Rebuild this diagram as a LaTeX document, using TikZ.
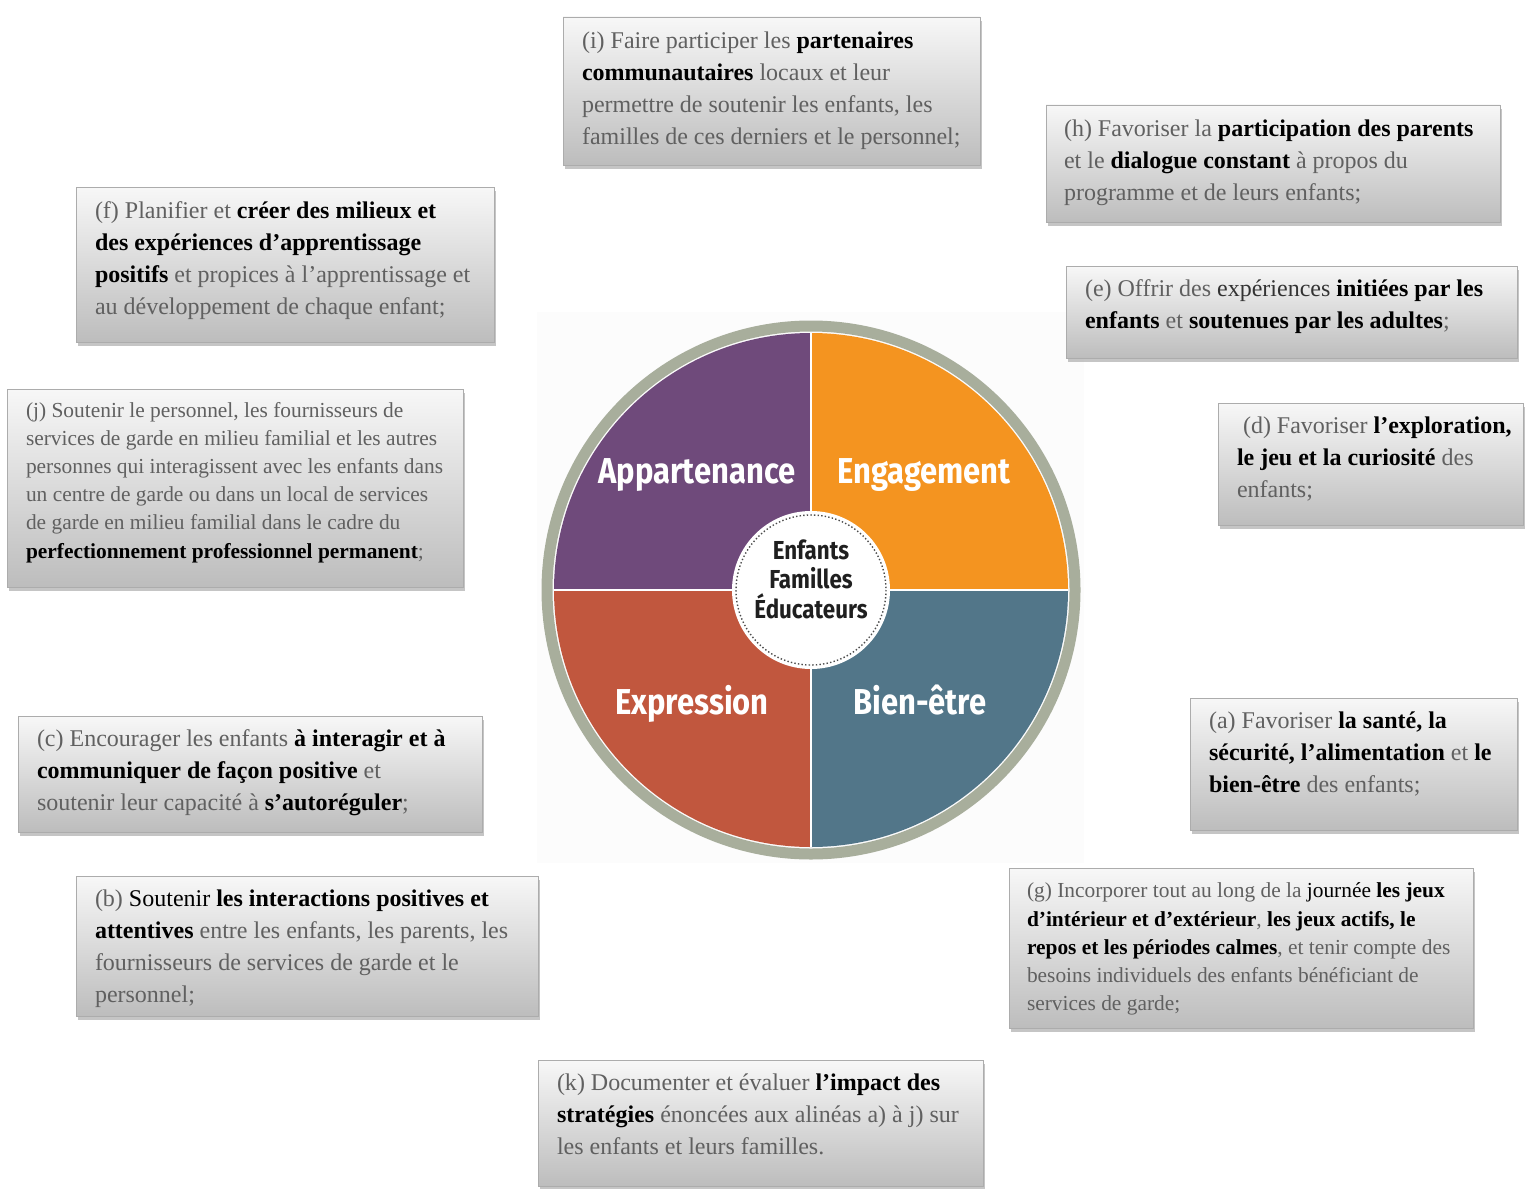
\documentclass[tikz,border=0pt]{standalone}
\usepackage{fontspec}
\setmainfont{Liberation Serif}
\newfontfamily\wheelfont[FakeStretch=0.86]{Fira Sans}
\usetikzlibrary{shadows,fit}

\definecolor{txtgray}{RGB}{96,96,96}
\definecolor{ringgray}{RGB}{168,174,156}
\definecolor{appcolor}{RGB}{111,74,123}
\definecolor{engcolor}{RGB}{244,148,32}
\definecolor{expcolor}{RGB}{193,87,62}
\definecolor{biecolor}{RGB}{82,118,137}

\newcommand{\hl}[1]{\textbf{\color{black}#1}}

\tikzset{panel/.style={draw=gray!65,top color=gray!6,bottom color=gray!52,inner sep=0pt,
drop shadow={opacity=0.45,shadow xshift=0.8pt,shadow yshift=-1.8pt}},
panel text/.style={anchor=north west,align=left,inner sep=0pt,text=txtgray,font=\fontsize{12}{16}\selectfont,
execute at begin node=\strut},
small text/.style={panel text,font=\fontsize{10.7}{14.1}\selectfont},
wheel label/.style={anchor=base,inner sep=0pt,text=white,font=\wheelfont\bfseries\fontsize{18}{20}\selectfont},
hub text/.style={align=center,inner sep=0pt,text=black!88,font=\wheelfont\bfseries\fontsize{13}{14.7}\selectfont}}

\begin{document}
\begin{tikzpicture}[x=0.5pt,y=-0.5pt]
\fill[white] (0,0) rectangle (1525,1188);
\useasboundingbox (0,0) rectangle (1525,1188);

%% Coordinates of the panels (corners, in pixels)
\coordinate (i1) at (563,17);   \coordinate (i2) at (980,165);
\coordinate (h1) at (1046,105); \coordinate (h2) at (1500,222);
\coordinate (f1) at (76,187);   \coordinate (f2) at (494,342);
\coordinate (e1) at (1066,266); \coordinate (e2) at (1517,358);
\coordinate (j1) at (7,389);    \coordinate (j2) at (463,587);
\coordinate (d1) at (1218,403); \coordinate (d2) at (1523,525);
\coordinate (c1) at (18,716);   \coordinate (c2) at (482,832);
\coordinate (a1) at (1190,698); \coordinate (a2) at (1517,830);
\coordinate (b1) at (76,876);   \coordinate (b2) at (538,1016);
\coordinate (g1) at (1009,868); \coordinate (g2) at (1473,1028);
\coordinate (k1) at (538,1060); \coordinate (k2) at (983,1186);
\coordinate (ctr) at (811,590);

%% the wheel
\fill[gray!2] (537,312) rectangle (1084,863);
\draw[ringgray,line width=5.5pt] (ctr) circle[radius=264];
\begin{scope}
\clip (ctr) circle[radius=257];
\fill[appcolor] (ctr) rectangle ++(-260,-260);
\fill[engcolor] (ctr) rectangle ++(260,-260);
\fill[expcolor] (ctr) rectangle ++(-260,260);
\fill[biecolor] (ctr) rectangle ++(260,260);
\draw[white,line width=1.2pt] (ctr) ++(0,-260) -- ++(0,520);
\draw[white,line width=1.2pt] (ctr) ++(-260,0) -- ++(520,0);
\end{scope}
\node[circle,fill=white,minimum size=79pt,inner sep=0pt] (hub) at (ctr) {};
\draw[black!70,line width=0.7pt,dash pattern=on 0.7pt off 1.1pt] (hub.center) circle[radius=75];

%% wheel labels
\node[wheel label] (lblApp) at (697,483) {Appartenance};
\node[wheel label] (lblEng) at (924,483) {Engagement};
\node[wheel label] (lblExp) at (692,714) {Expression};
\node[wheel label] (lblBie) at (920,714) {Bien-être};
\node[hub text] (hubTxt) at (811,579) {Enfants\\Familles\\Éducateurs};

%% panels
\node[panel,fit=(i1)(i2)] (pi) {};
\node[panel,fit=(h1)(h2)] (ph) {};
\node[panel,fit=(f1)(f2)] (pf) {};
\node[panel,fit=(e1)(e2)] (pe) {};
\node[panel,fit=(j1)(j2)] (pj) {};
\node[panel,fit=(d1)(d2)] (pd) {};
\node[panel,fit=(c1)(c2)] (pc) {};
\node[panel,fit=(a1)(a2)] (pa) {};
\node[panel,fit=(b1)(b2)] (pb) {};
\node[panel,fit=(g1)(g2)] (pg) {};
\node[panel,fit=(k1)(k2)] (pk) {};

%% panel texts
\node[panel text] (ti) at ([shift={(19,15)}]pi.north west) {(i) Faire participer les \hl{partenaires}\\
\hl{communautaires} locaux et leur\\
permettre de soutenir les enfants, les\\
familles de ces derniers et le personnel;};
\node[panel text] (th) at ([shift={(18,15)}]ph.north west) {(h) Favoriser la \hl{participation des parents}\\
et le \hl{dialogue constant} à propos du\\
programme et de leurs enfants;};
\node[panel text] (tf) at ([shift={(19,15)}]pf.north west) {(f) Planifier et \hl{créer des milieux et}\\
\hl{des expériences d’apprentissage}\\
\hl{positifs} et propices à l’apprentissage et\\
au développement de chaque enfant;};
\node[panel text] (te) at ([shift={(19,14)}]pe.north west) {(e) Offrir des {\color{black!80}expériences} \hl{initiées par les}\\
\hl{enfants} et \hl{soutenues par les adultes};};
\node[small text] (tj) at ([shift={(19,13)}]pj.north west) {(j) Soutenir le personnel, les fournisseurs de\\
services de garde en milieu familial et les autres\\
personnes qui interagissent avec les enfants dans\\
un centre de garde ou dans un local de services\\
de garde en milieu familial dans le cadre du\\
\hl{perfectionnement professionnel permanent};};
\node[panel text] (td) at ([shift={(19,14)}]pd.north west) {\hspace*{3pt}(d) Favoriser \hl{l’exploration,}\\
\hl{le jeu et la curiosité} des\\
enfants;};
\node[panel text] (tc) at ([shift={(19,14)}]pc.north west) {(c) Encourager les enfants \hl{à interagir et à}\\
\hl{communiquer de façon positive} et\\
soutenir leur capacité à \hl{s’autoréguler};};
\node[panel text] (ta) at ([shift={(19,14)}]pa.north west) {(a) Favoriser \hl{la santé, la}\\
\hl{sécurité, l’alimentation} et \hl{le}\\
\hl{bien-être} des enfants;};
\node[panel text] (tb) at ([shift={(19,14)}]pb.north west) {(b) {\color{black}Soutenir} \hl{les interactions positives et}\\
\hl{attentives} entre les enfants, les parents, les\\
fournisseurs de services de garde et le\\
personnel;};
\node[small text] (tg) at ([shift={(18,15)}]pg.north west) {(g) Incorporer tout au long de la {\color{black}journée} \hl{les jeux}\\
\hl{d’intérieur et d’extérieur}, \hl{les jeux actifs, le}\\
\hl{repos et les périodes calmes}, et tenir compte des\\
besoins individuels des enfants bénéficiant de\\
services de garde;};
\node[panel text] (tk) at ([shift={(19,14)}]pk.north west) {(k) Documenter et évaluer \hl{l’impact des}\\
\hl{stratégies} énoncées aux alinéas a) à j) sur\\
les enfants et leurs familles.};

\end{tikzpicture}
\end{document}
